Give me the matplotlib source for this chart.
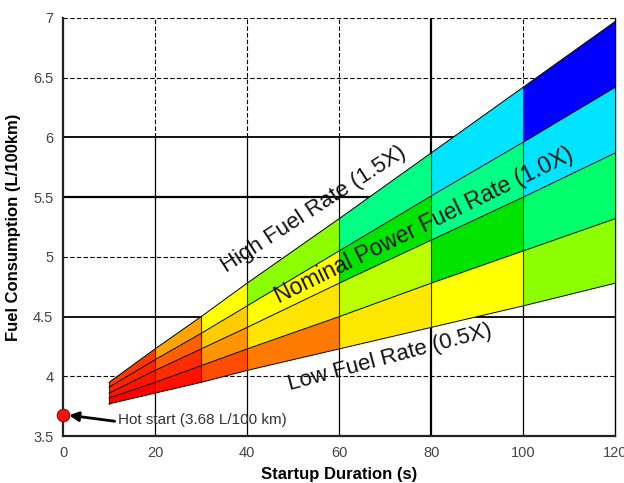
import matplotlib
matplotlib.use("Agg")
import matplotlib.pyplot as plt

plt.rcParams['font.family'] = ['Liberation Sans', 'DejaVu Sans']

# ---- data ----
startup_s = [10, 20, 30, 40, 60, 80, 100, 120]
rate_050x = [3.77, 3.86, 3.95, 4.05, 4.23, 4.41, 4.59, 4.78]
rate_075x = [3.82, 3.95, 4.09, 4.23, 4.50, 4.78, 5.05, 5.32]
rate_100x = [3.86, 4.05, 4.23, 4.41, 4.78, 5.14, 5.50, 5.87]
rate_125x = [3.91, 4.14, 4.36, 4.59, 5.05, 5.51, 5.96, 6.42]
rate_150x = [3.95, 4.23, 4.50, 4.78, 5.32, 5.87, 6.42, 6.97]
hot_start_s = 0
hot_start_l = 3.68
x_ticks = [0, 20, 40, 60, 80, 100, 120]
y_ticks = [3.5, 4, 4.5, 5, 5.5, 6, 6.5, 7]
y_tick_labels = ['3.5', '4', '4.5', '5', '5.5', '6', '6.5', '7']
label_high = 'High Fuel Rate (1.5X)'
label_nom = 'Nominal Power Fuel Rate (1.0X)'
label_low = 'Low Fuel Rate (0.5X)'
label_hot = 'Hot start (3.68 L/100 km)'

# ---- styling: fill colour of each cell, per x segment (bands bottom -> top) ----
cell_colors = [
    ['#ff0000', '#ff1400', '#ff2400', '#ff3800'],
    ['#ff1000', '#ff2c00', '#ff6000', '#ffa400'],
    ['#ff4c00', '#ff9400', '#ffcc00', '#ffff00'],
    ['#ff7a00', '#ffe400', '#ffff00', '#8cff00'],
    ['#ffe800', '#bcff00', '#00e400', '#00ff84'],
    ['#ffff00', '#00e400', '#00ff84', '#00e4ff'],
    ['#8cff00', '#00ff6a', '#00e4ff', '#0000ff'],
]

fig = plt.figure(figsize=(6.24, 4.83), dpi=100)
ax = fig.add_axes([0.101, 0.097, 0.885, 0.866])
ax.set_xlim(0, 120)
ax.set_ylim(3.5, 7)

# grid (drawn beneath the bands)
dash = (0, (4, 2))
for y, style, lw in [(7, dash, 0.8), (6.5, dash, 0.8), (6, '-', 1.3), (5.5, '-', 1.6),
                     (5, dash, 0.8), (4.5, '-', 1.3), (4, dash, 0.8)]:
    ax.plot([0, 120], [y, y], color='black', ls=style, lw=lw, zorder=0)
for x in [20, 40, 60, 100]:
    ax.plot([x, x], [6, 7], color='black', ls=dash, lw=0.8, zorder=0)
    ax.plot([x, x], [3.5, 6], color='black', ls='-', lw=0.9, zorder=0)
ax.plot([80, 80], [3.5, 7], color='black', lw=1.6, zorder=0)
ax.plot([120, 120], [3.5, 7], color='black', lw=1.0, zorder=0, clip_on=False)

# bands
lines = [rate_050x, rate_075x, rate_100x, rate_125x, rate_150x]
for i in range(len(startup_s) - 1):
    x0, x1 = startup_s[i], startup_s[i + 1]
    for j in range(len(lines) - 1):
        lo, hi = lines[j], lines[j + 1]
        ax.fill([x0, x1, x1, x0], [lo[i], lo[i + 1], hi[i + 1], hi[i]],
                facecolor=cell_colors[i][j], edgecolor='none', zorder=2)
# band boundary lines
for ln in lines:
    ax.plot(startup_s, ln, color='black', lw=0.7, zorder=3)
for i, x in enumerate(startup_s):
    ax.plot([x, x], [rate_050x[i], rate_150x[i]], color='#3a2000', lw=0.8, zorder=3)

# band labels
ax.text(54.5, 5.40, label_high, rotation=33, fontsize=16, color='#111111',
        ha='center', va='center', zorder=4, rotation_mode='anchor')
ax.text(78.5, 5.26, label_nom, rotation=26, fontsize=16.5, color='#111111',
        ha='center', va='center', zorder=4, rotation_mode='anchor')
ax.text(71, 4.16, label_low, rotation=15, fontsize=16, color='#111111',
        ha='center', va='center', zorder=4, rotation_mode='anchor')

# hot start point and annotation
ax.plot([hot_start_s], [hot_start_l], 'o', ms=9, color='#ff1010',
        mec='#aa0000', mew=0.8, zorder=6, clip_on=False)
ax.annotate('', xy=(1.3, hot_start_l - 0.005), xytext=(11.2, 3.625),
            arrowprops=dict(arrowstyle='-|>', color='black', lw=2,
                            mutation_scale=14, shrinkA=0, shrinkB=0), zorder=5)
ax.text(12, 3.635, label_hot, fontsize=11, color='#333333', ha='left', va='center', zorder=5)

# axes styling
for s in ['top', 'right']:
    ax.spines[s].set_visible(False)
for s in ['left', 'bottom']:
    ax.spines[s].set_linewidth(1.6)
    ax.spines[s].set_color('#222222')
ax.set_xticks(x_ticks)
ax.set_yticks(y_ticks)
ax.set_yticklabels(y_tick_labels)
ax.tick_params(length=0, labelsize=10.5, labelcolor='#444444', pad=7)
ax.set_xlabel('Startup Duration (s)', fontsize=12, fontweight='bold', labelpad=5)
ax.set_ylabel('Fuel Consumption (L/100km)', fontsize=12, fontweight='bold', labelpad=9)

fig.savefig('out.png', dpi=100)
